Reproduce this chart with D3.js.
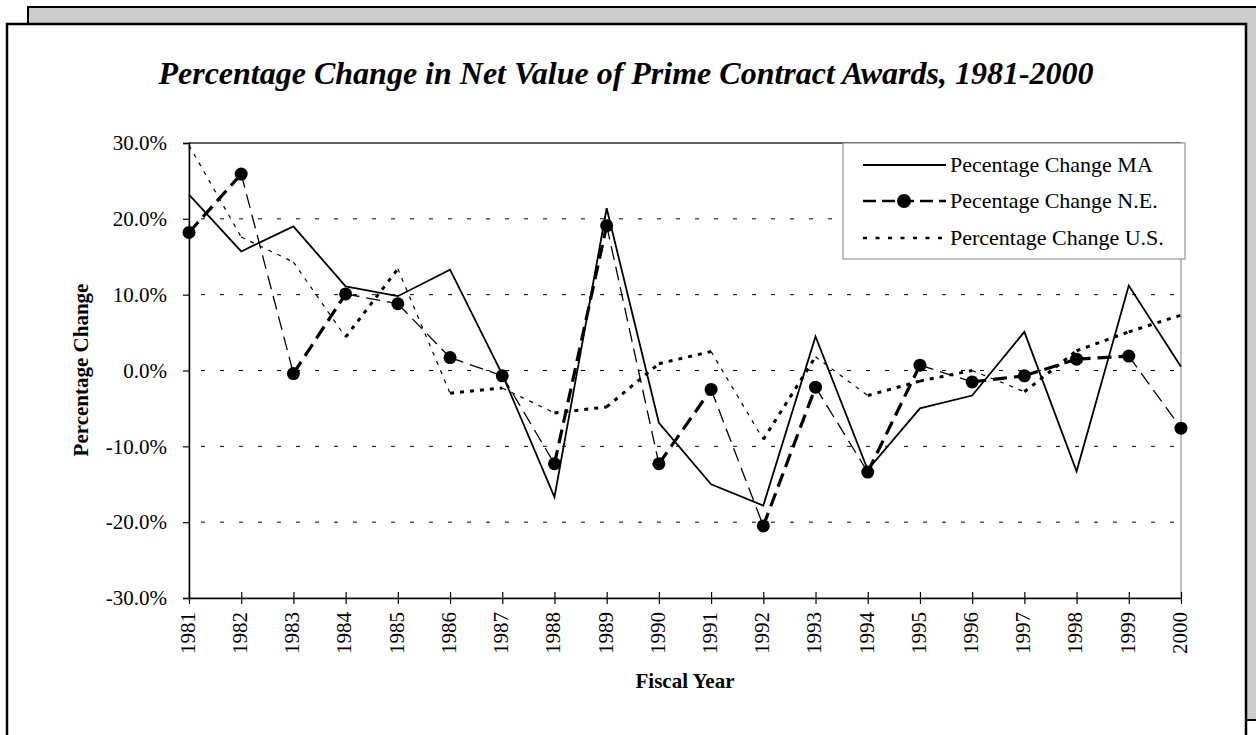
<!DOCTYPE html>
<html>
<head>
<meta charset="utf-8">
<script src="https://cdn.jsdelivr.net/npm/d3@7"></script>
<style>
  body { margin: 0; background: #fff; }
  svg { display: block; font-family: "Liberation Serif", "Times New Roman", serif; }
</style>
</head>
<body>
<svg id="chart" width="1256" height="735"></svg>
<script>
// chart values
var years = ["1981","1982","1983","1984","1985","1986","1987","1988","1989","1990",
             "1991","1992","1993","1994","1995","1996","1997","1998","1999","2000"];
var changeMA = [23.2, 15.7, 19.0, 11.1, 9.8, 13.3, -0.5, -16.7, 21.4, -6.9,
                -15.0, -17.8, 4.5, -13.1, -5.0, -3.3, 5.1, -13.3, 11.2, 0.5];
var changeNE = [18.2, 25.9, -0.4, 10.1, 8.8, 1.7, -0.7, -12.3, 19.1, -12.3,
                -2.5, -20.5, -2.2, -13.4, 0.7, -1.5, -0.7, 1.5, 1.9, -7.6];
var changeUS = [29.7, 17.6, 14.3, 4.4, 13.4, -3.0, -2.3, -5.6, -4.8, 0.9,
                2.5, -9.1, 1.8, -3.3, -1.4, 0.0, -2.8, 2.6, 5.1, 7.3];
var yTicks = [-30, -20, -10, 0, 10, 20, 30];
var legendLabels = ["Pecentage Change MA", "Pecentage Change N.E.", "Percentage Change U.S."];

var svg = d3.select("#chart");

// background frames
svg.append("rect").attr("x", 28).attr("y", 7).attr("width", 1240).attr("height", 713)
    .attr("fill", "#cccccc").attr("stroke", "#000").attr("stroke-width", 2);
svg.append("rect").attr("x", 7).attr("y", 24).attr("width", 1239).attr("height", 730)
    .attr("fill", "#fff").attr("stroke", "#000").attr("stroke-width", 2.5);

// plot area
var margin = {top: 143, left: 189},
    width = 1181 - 189,
    height = 598 - 143;

var x = d3.scalePoint().domain(years).range([0, width]);
var y = d3.scaleLinear().domain([-30, 30]).range([height, 0]);

var g = svg.append("g").attr("transform", "translate(" + margin.left + "," + margin.top + ")");

g.append("rect").attr("width", width).attr("height", height)
    .attr("fill", "none").attr("stroke", "#808080").attr("stroke-width", 1);
g.append("line").attr("x1", 0).attr("x2", width).attr("y1", 0).attr("y2", 0)
    .attr("stroke", "#000").attr("stroke-width", 1);

// gridlines
g.selectAll(".grid")
    .data(yTicks.filter(function (d) { return d > -30 && d < 30; }))
    .enter().append("line")
    .attr("x1", 0).attr("x2", width - 6)
    .attr("y1", function (d) { return y(d); })
    .attr("y2", function (d) { return y(d); })
    .attr("stroke", "#000").attr("stroke-width", 1)
    .attr("stroke-dasharray", "4,15").attr("stroke-dashoffset", -12);

// y axis
var yAxis = d3.axisLeft(y).tickValues(yTicks).tickSize(6).tickPadding(16)
    .tickFormat(function (d) { return d.toFixed(1) + "%"; });
var ya = g.append("g").call(yAxis);
ya.select(".domain").attr("stroke", "#000").attr("stroke-width", 1.5);
ya.selectAll(".tick line").attr("stroke", "#000").attr("stroke-width", 1.2);
ya.selectAll("text").attr("font-size", 21).attr("font-family", "Liberation Serif").attr("fill", "#000");

// x axis
var xAxis = d3.axisBottom(x).tickSizeInner(0).tickSizeOuter(0);
var xa = g.append("g").attr("transform", "translate(0," + height + ")").call(xAxis);
xa.select(".domain").attr("stroke", "#000").attr("stroke-width", 1.5);
xa.selectAll(".tick line").attr("y1", -6).attr("y2", 6).attr("stroke", "#000").attr("stroke-width", 1.2);
xa.selectAll("text")
    .attr("font-size", 21).attr("font-family", "Liberation Serif").attr("fill", "#000")
    .attr("transform", "rotate(-90)")
    .attr("x", -14).attr("y", -2).attr("dy", "0.35em")
    .attr("text-anchor", "end");

// series, drawn segment by segment so rising pieces look heavier as in the original
function segments(values) {
    var out = [];
    for (var i = 0; i < values.length - 1; i++) {
        out.push({x1: x(years[i]), y1: y(values[i]), x2: x(years[i + 1]), y2: y(values[i + 1]),
                  up: values[i + 1] > values[i]});
    }
    return out;
}

g.selectAll(".segUS").data(segments(changeUS)).enter().append("line")
    .attr("x1", function (d) { return d.x1; }).attr("y1", function (d) { return d.y1; })
    .attr("x2", function (d) { return d.x2; }).attr("y2", function (d) { return d.y2; })
    .attr("stroke", "#000")
    .attr("stroke-width", function (d) { return d.up ? 3 : 1.2; })
    .attr("stroke-dasharray", "4,6");

g.selectAll(".segNE").data(segments(changeNE)).enter().append("line")
    .attr("x1", function (d) { return d.x1; }).attr("y1", function (d) { return d.y1; })
    .attr("x2", function (d) { return d.x2; }).attr("y2", function (d) { return d.y2; })
    .attr("stroke", "#000")
    .attr("stroke-width", function (d) { return d.up ? 3.2 : 1.3; })
    .attr("stroke-dasharray", "14,7");

var lineMA = d3.line()
    .x(function (d, i) { return x(years[i]); })
    .y(function (d) { return y(d); });
g.append("path").datum(changeMA).attr("d", lineMA)
    .attr("fill", "none").attr("stroke", "#000").attr("stroke-width", 1.8);

g.selectAll(".dotNE").data(changeNE).enter().append("circle")
    .attr("cx", function (d, i) { return x(years[i]); })
    .attr("cy", function (d) { return y(d); })
    .attr("r", 6.5).attr("fill", "#000");

// legend
var lg = svg.append("g").attr("transform", "translate(843,143)");
lg.append("rect").attr("width", 342).attr("height", 116)
    .attr("fill", "#fff").attr("stroke", "#808080").attr("stroke-width", 1);
var rowY = [22, 58, 95];
legendLabels.forEach(function (label, i) {
    var row = lg.append("g").attr("transform", "translate(0," + rowY[i] + ")");
    var ln = row.append("line").attr("x1", 20).attr("x2", 103).attr("y1", 0).attr("y2", 0)
        .attr("stroke", "#000").attr("stroke-width", i === 0 ? 2 : 2.4);
    if (i === 1) {
        ln.attr("stroke-dasharray", "13,6");
        row.append("circle").attr("cx", 61).attr("cy", 0).attr("r", 7).attr("fill", "#000");
    }
    if (i === 2) ln.attr("stroke-dasharray", "4,8.5");
    row.append("text").attr("x", 107).attr("y", 0).attr("dy", "0.33em")
        .attr("font-size", 22).text(label);
});

// titles
svg.append("text").attr("x", 626).attr("y", 84).attr("text-anchor", "middle")
    .attr("font-size", 32).attr("font-weight", "bold").attr("font-style", "italic")
    .text("Percentage Change in Net Value of Prime Contract Awards, 1981-2000");

svg.append("text").attr("transform", "translate(81,370) rotate(-90)")
    .attr("text-anchor", "middle").attr("dy", "0.35em")
    .attr("font-size", 21).attr("font-weight", "bold")
    .text("Percentage Change");

svg.append("text").attr("x", 685).attr("y", 688).attr("text-anchor", "middle")
    .attr("font-size", 21).attr("font-weight", "bold")
    .text("Fiscal Year");
</script>
</body>
</html>
